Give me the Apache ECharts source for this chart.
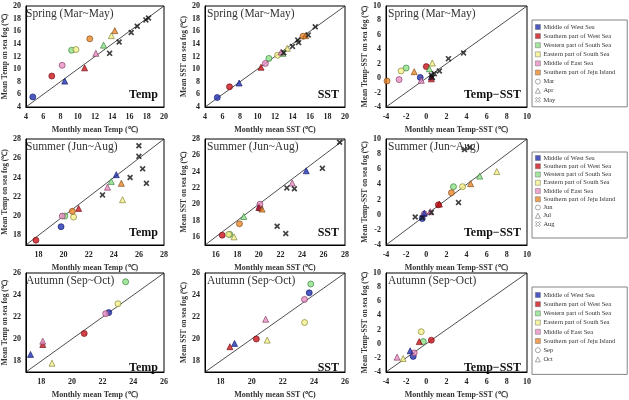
<!DOCTYPE html>
<html>
<head>
<meta charset="utf-8">
<script src="https://cdn.jsdelivr.net/npm/echarts/dist/echarts.min.js"></script>
<style>
  html, body { margin: 0; padding: 0; background: #fff; }
  #main { width: 629px; height: 400px; }
</style>
</head>
<body>
<div id="main"></div>
<script>
// regions (legend order) and their marker colours
const regions = ['Middle of West Sea', 'Southern part of West Sea', 'Western part of South Sea',
  'Eastern part of South Sea', 'Middle of East Sea', 'Southern part of Jeju Island']
const regionColors = ['#1f2fb0', '#c8141c', '#8ee08a', '#f4f08c', '#e890c4', '#ea8a2c']
const regionBorders = ['#10186a', '#6e0a0e', '#2f7a2f', '#7c7a2a', '#7a3458', '#7a4210']

// tick labels
const ticksSpring = [4, 6, 8, 10, 12, 14, 16, 18, 20]
const ticksDiff = [-4, -2, 0, 2, 4, 6, 8, 10]
const ticksSummerTemp = [18, 20, 22, 24, 26, 28]
const ticksSummerSST = [16, 18, 20, 22, 24, 26, 28]
const ticksAutumn = [18, 20, 22, 24, 26]

// [x, y, region]  (circle / triangle months)   [x, y]  (cross month)
const springTempMar = [[4.8, 5.6, 0], [7.0, 8.9, 1], [9.3, 13.0, 2], [9.8, 13.1, 3], [8.2, 10.6, 4], [11.4, 14.8, 5]]
const springTempApr = [[8.5, 8.1, 0], [10.8, 10.2, 1], [13.0, 13.8, 2], [13.9, 15.3, 3], [12.1, 12.5, 4], [14.3, 16.1, 5]]
const springTempMay = [[13.7, 12.5], [14.8, 14.3], [16.2, 15.8], [16.9, 16.8], [17.9, 17.8], [18.2, 18.1]]

const springSSTMar = [[5.4, 5.5, 0], [6.8, 7.2, 1], [11.3, 11.7, 2], [12.3, 12.2, 3], [10.9, 10.9, 4], [15.2, 15.2, 5]]
const springSSTApr = [[7.9, 7.8, 0], [10.4, 10.3, 1], [12.9, 12.5, 2], [13.4, 13.3, 3], [12.7, 12.7, 4], [15.5, 15.3, 5]]
const springSSTMay = [[13.0, 12.6], [14.0, 13.6], [14.6, 14.6], [14.7, 14.2], [15.8, 15.4], [16.6, 16.7]]

const springDiffMar = [[-0.6, 0.1, 0], [0.0, 1.6, 1], [-2.0, 1.4, 2], [-2.5, 1.0, 3], [-2.7, -0.2, 4], [-3.9, -0.4, 5]]
const springDiffApr = [[0.5, 0.2, 0], [0.5, -0.1, 1], [0.3, 1.3, 2], [0.6, 2.1, 3], [-0.5, -0.3, 4], [-1.2, 0.9, 5]]
const springDiffMay = [[0.6, 0.1], [0.5, 0.4], [0.8, 0.6], [1.3, 1.0], [2.2, 2.7], [3.7, 3.5]]

const summerTempJun = [[19.8, 18.9, 0], [17.8, 17.5, 1], [20.1, 20.0, 2], [20.8, 19.9, 3], [19.9, 20.0, 4], [20.7, 20.5, 5]]
const summerTempJul = [[24.2, 24.3, 0], [21.2, 20.8, 1], [23.8, 23.6, 2], [24.7, 21.7, 3], [23.5, 23.0, 4], [24.6, 23.4, 5]]
const summerTempAug = [[23.1, 22.2], [25.3, 24.0], [26.0, 27.3], [26.0, 26.2], [26.3, 24.9], [26.6, 23.4]]

const summerSSTJun = [[20.1, 19.5, 0], [16.6, 16.2, 1], [17.3, 16.3, 2], [17.2, 16.3, 3], [20.1, 20.0, 4], [18.2, 17.6, 5]]
const summerSSTJul = [[24.4, 24.1, 0], [20.0, 19.6, 1], [18.6, 18.5, 2], [17.7, 16.0, 3], [23.1, 22.6, 4], [20.3, 19.4, 5]]
const summerSSTAug = [[21.7, 17.3], [22.5, 16.4], [22.6, 22.0], [23.3, 21.9], [25.9, 24.4], [27.5, 27.6]]

const summerDiffJun = [[-0.4, -0.5, 0], [1.2, 1.3, 1], [2.7, 3.7, 2], [3.6, 3.7, 3], [-0.2, 0.1, 4], [2.5, 2.9, 5]]
const summerDiffJul = [[-0.2, 0.2, 0], [1.3, 1.4, 1], [5.3, 5.1, 2], [7.0, 5.7, 3], [0.4, 0.4, 4], [4.4, 4.1, 5]]
const summerDiffAug = [[-1.1, -0.3], [-0.4, -0.4], [0.5, 0.3], [3.2, 1.6], [3.8, 8.6], [4.3, 8.9]]

const autumnTempSep = [[22.4, 22.4, 0], [20.8, 20.5, 1], [23.5, 25.2, 2], [23.0, 23.2, 3], [22.2, 22.3, 4]]
const autumnTempOct = [[17.3, 18.6, 0], [18.1, 19.5, 1], [18.7, 17.8, 3], [18.1, 19.8, 4]]

const autumnSSTSep = [[23.7, 24.2, 0], [20.3, 20.0, 1], [23.8, 25.0, 2], [23.4, 21.5, 3], [23.4, 23.6, 4]]
const autumnSSTOct = [[18.9, 19.6, 0], [18.6, 19.3, 1], [21.0, 19.9, 3], [20.9, 21.8, 4]]

const autumnDiffSep = [[-1.3, -1.8, 0], [0.5, 0.5, 1], [-0.3, 0.3, 2], [-0.5, 1.7, 3], [-1.2, -1.3, 4]]
const autumnDiffOct = [[-1.6, -1.0, 0], [-0.7, 0.3, 1], [-2.3, -2.1, 3], [-2.9, -1.9, 4]]

const FONT = "'Liberation Serif', 'Times New Roman', serif"
const CROSS = 'path://M2,0 L5,3 L8,0 L10,2 L7,5 L10,8 L8,10 L5,7 L2,10 L0,8 L3,5 L0,2 Z'

const colLeft = [24, 205, 386]
const colWidth = [140, 140, 141]
const rowTop = [6, 139, 273]
const rowHeight = [101, 106, 107]

const panels = [
  { r: 0, c: 0, min: 4, max: 20, ticks: ticksSpring, season: 'Spring (Mar~May)', tag: 'Temp', v: 'Temp',
    months: ['Mar', 'Apr', 'May'], sets: [springTempMar, springTempApr, springTempMay] },
  { r: 0, c: 1, min: 4, max: 20, ticks: ticksSpring, season: 'Spring (Mar~May)', tag: 'SST', v: 'SST',
    months: ['Mar', 'Apr', 'May'], sets: [springSSTMar, springSSTApr, springSSTMay] },
  { r: 0, c: 2, min: -4, max: 10, ticks: ticksDiff, season: 'Spring (Mar~May)', tag: 'Temp\u2212SST', v: 'Temp-SST',
    months: ['Mar', 'Apr', 'May'], sets: [springDiffMar, springDiffApr, springDiffMay] },
  { r: 1, c: 0, min: 17, max: 28, ticks: ticksSummerTemp, season: 'Summer (Jun~Aug)', tag: 'Temp', v: 'Temp',
    months: ['Jun', 'Jul', 'Aug'], sets: [summerTempJun, summerTempJul, summerTempAug] },
  { r: 1, c: 1, min: 15, max: 28, ticks: ticksSummerSST, season: 'Summer (Jun~Aug)', tag: 'SST', v: 'SST',
    months: ['Jun', 'Jul', 'Aug'], sets: [summerSSTJun, summerSSTJul, summerSSTAug] },
  { r: 1, c: 2, min: -4, max: 10, ticks: ticksDiff, season: 'Summer (Jun~Aug)', tag: 'Temp\u2212SST', v: 'Temp-SST',
    months: ['Jun', 'Jul', 'Aug'], sets: [summerDiffJun, summerDiffJul, summerDiffAug] },
  { r: 2, c: 0, min: 17, max: 26, ticks: ticksAutumn, season: 'Autumn (Sep~Oct)', tag: 'Temp', v: 'Temp',
    months: ['Sep', 'Oct'], sets: [autumnTempSep, autumnTempOct] },
  { r: 2, c: 1, min: 17, max: 26, ticks: ticksAutumn, season: 'Autumn (Sep~Oct)', tag: 'SST', v: 'SST',
    months: ['Sep', 'Oct'], sets: [autumnSSTSep, autumnSSTOct] },
  { r: 2, c: 2, min: -4, max: 10, ticks: ticksDiff, season: 'Autumn (Sep~Oct)', tag: 'Temp\u2212SST', v: 'Temp-SST',
    months: ['Sep', 'Oct'], sets: [autumnDiffSep, autumnDiffOct] }
]

const symbols = ['circle', 'triangle', CROSS]

const grid = [], xAxis = [], yAxis = [], series = [], graphic = []

panels.forEach((p, i) => {
  const left = colLeft[p.c], top = rowTop[p.r], w = colWidth[p.c], h = rowHeight[p.r]
  grid.push({ left: left, top: top, width: w, height: h, show: true, borderColor: '#000', borderWidth: 1, backgroundColor: '#fff' })
  const labelStyle = { fontFamily: FONT, fontWeight: 'bold', fontSize: 8, color: '#222' }
  xAxis.push({
    gridIndex: i, type: 'value', min: p.min, max: p.max,
    name: 'Monthly mean ' + p.v + ' (\u2103)', nameLocation: 'middle', nameGap: 19,
    nameTextStyle: { fontFamily: FONT, fontWeight: 'bold', fontSize: 8, color: '#333' },
    axisLine: { onZero: false, lineStyle: { color: '#000', width: 1 } },
    axisTick: { show: false, customValues: p.ticks },
    axisLabel: Object.assign({ customValues: p.ticks, margin: 6 }, labelStyle),
    splitLine: { show: false }
  })
  yAxis.push({
    gridIndex: i, type: 'value', min: p.min, max: p.max,
    name: 'Mean ' + p.v + ' on sea fog (\u2103)', nameLocation: 'middle', nameGap: 16,
    nameTextStyle: { fontFamily: FONT, fontWeight: 'bold', fontSize: 7.5, color: '#333' },
    axisLine: { onZero: false, lineStyle: { color: '#000', width: 1 } },
    axisTick: { show: false, customValues: p.ticks },
    axisLabel: Object.assign({ customValues: p.ticks, margin: 5 }, labelStyle),
    splitLine: { show: false }
  })
  // 1:1 line
  series.push({
    type: 'line', xAxisIndex: i, yAxisIndex: i, silent: true, symbol: 'none', z: 1,
    data: [[p.min, p.min], [p.max, p.max]],
    lineStyle: { color: '#222', width: 0.8 }
  })
  p.sets.forEach((set, m) => {
    const cross = symbols[m] === CROSS
    series.push({
      type: 'scatter', name: p.months[m], xAxisIndex: i, yAxisIndex: i, z: 3 + m,
      symbol: symbols[m], symbolSize: 6,
      data: set.map(d => cross
        ? { value: [d[0], d[1]], itemStyle: { color: '#111' } }
        : { value: [d[0], d[1]], itemStyle: { color: regionColors[d[2]], borderColor: regionBorders[d[2]], borderWidth: 0.8 } })
    })
  })
  graphic.push({
    type: 'text', left: left + 2, top: top + 2, z: 10,
    style: { text: p.season, font: '11.5px ' + FONT, fill: '#333' }
  })
  graphic.push({
    type: 'text', right: 629 - (left + w) + 6, top: top + h - 18, z: 10,
    style: { text: p.tag, font: 'bold 12px ' + FONT, fill: '#111' }
  })
})

// empty series so the legends can show the region swatches
regions.forEach((r, k) => {
  series.push({ type: 'scatter', name: r, xAxisIndex: 0, yAxisIndex: 0, data: [], itemStyle: { color: regionColors[k] } })
})

function makeLegend(top, months, gap, pad) {
  const data = regions.map((r, k) => ({
    name: r, icon: 'rect', itemStyle: { color: regionColors[k], borderColor: '#555', borderWidth: 0.5 }
  }))
  months.forEach((m, k) => {
    data.push({ name: m, icon: symbols[k], itemStyle: { color: '#fff', borderColor: '#777', borderWidth: 0.8 } })
  })
  return {
    orient: 'vertical', left: 532, top: top, data: data, selectedMode: false,
    itemWidth: 5, itemHeight: 5, itemGap: gap,
    padding: pad,
    borderColor: '#666', borderWidth: 0.8, backgroundColor: '#fff',
    textStyle: { fontFamily: FONT, fontSize: 6.5, color: '#333', lineHeight: 8, padding: [0, 0, 0, -2] }
  }
}

const chart = echarts.init(document.getElementById('main'), null, { renderer: 'canvas' })
chart.setOption({
  animation: false,
  backgroundColor: '#fff',
  grid: grid,
  xAxis: xAxis,
  yAxis: yAxis,
  legend: [
    makeLegend(20, ['Mar', 'Apr', 'May'], 1.1, [3, 12, 3, 3]),
    makeLegend(152, ['Jun', 'Jul', 'Aug'], 0.25, [2, 12, 10, 3]),
    makeLegend(287, ['Sep', 'Oct'], 1.2, [4, 12, 11, 3])
  ],
  graphic: graphic,
  series: series
})
</script>
</body>
</html>
